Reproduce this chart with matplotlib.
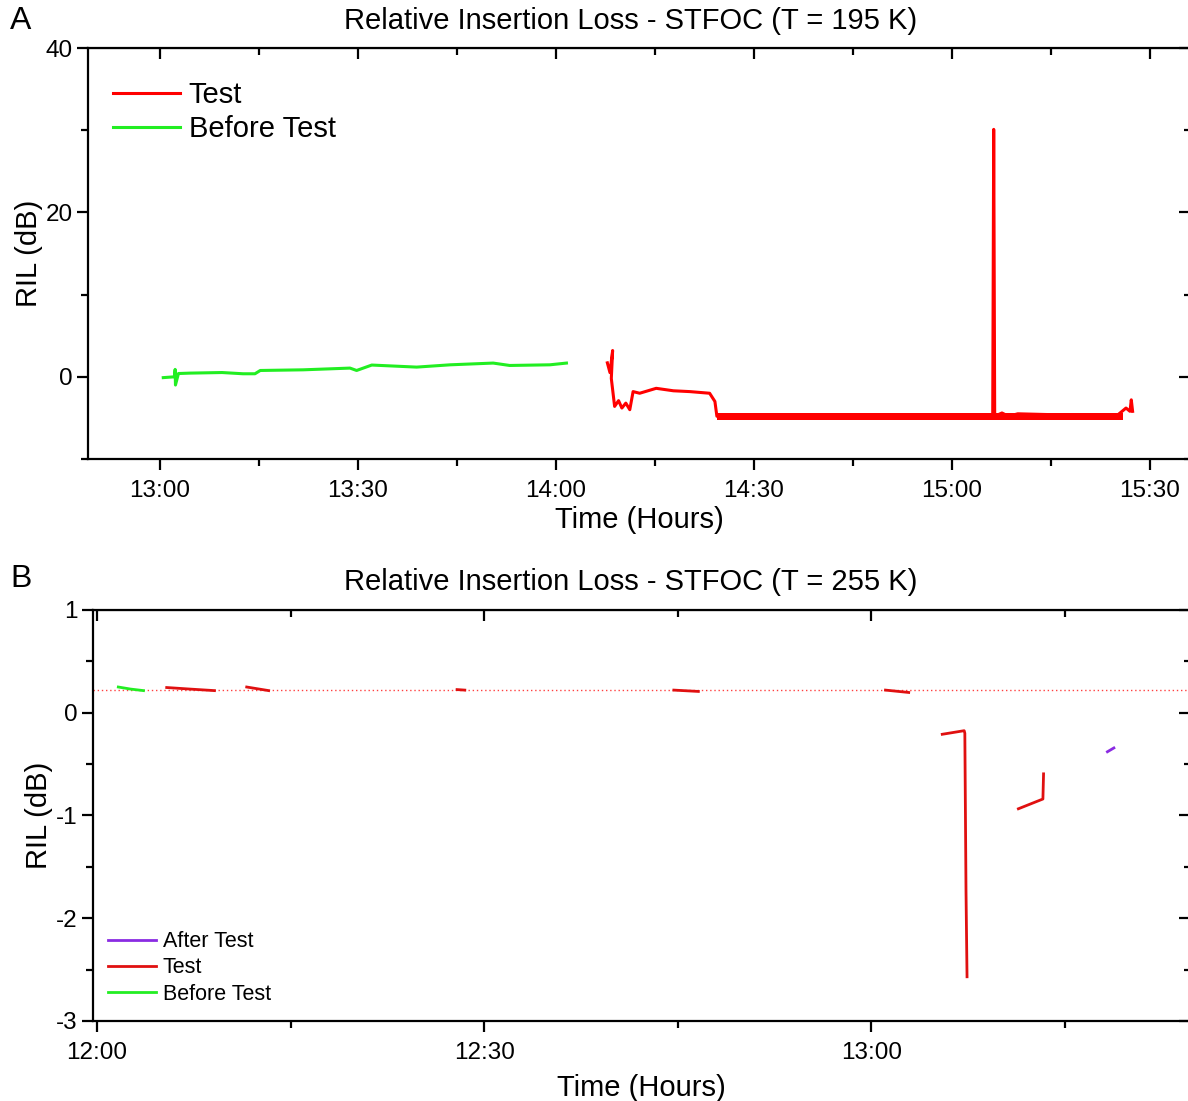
import numpy as np
import matplotlib
matplotlib.use('Agg')
import matplotlib.pyplot as plt
from matplotlib.ticker import MultipleLocator, FuncFormatter

plt.rcParams['font.family'] = ['Liberation Sans', 'DejaVu Sans']
plt.rcParams['axes.unicode_minus'] = False

### DATA ######################################################################
# Panel A: minutes after 13:00, RIL in dB (T = 195 K)
before_a_t = [0.5, 2.2, 2.3, 2.35, 2.8, 4.6, 9.4, 12.6, 14.4, 15.2, 21.7, 28.8, 29.8,
              32.1, 38.9, 44.0, 50.5, 53.0, 59.1, 61.6]
before_a_v = [-0.1, 0.0, 0.9, -1.0, 0.4, 0.45, 0.52, 0.37, 0.37, 0.77, 0.85, 1.06, 0.77,
              1.43, 1.18, 1.46, 1.67, 1.38, 1.46, 1.67]

test_a_t = [67.8, 68.2, 68.6, 68.4, 68.9, 69.5, 70.0, 70.6, 71.2, 71.7, 72.7, 75.2, 77.8,
            80.3, 83.3, 84.1, 84.4, 126.2, 126.35, 126.5, 127.6, 128.6, 130.0, 144.9,
            146.4, 147.0, 147.2, 147.4]
test_a_v = [1.7, 0.5, 3.2, -0.2, -3.6, -2.9, -3.8, -3.2, -4.0, -1.8, -2.0, -1.4, -1.7,
            -1.8, -2.0, -3.0, -4.8, -4.8, 30.1, -4.8, -4.4, -4.8, -4.5, -4.8,
            -3.8, -4.2, -2.8, -4.2]
# noise envelope of the flat part of the test trace
band_a_t = [84.4, 146.0]
band_a_lo = [-5.2, -5.2]
band_a_hi = [-4.4, -4.4]

# Panel B: minutes after 12:00, RIL in dB (T = 255 K)
before_b_t = [1.65, 2.6, 3.6]
before_b_v = [0.25, 0.23, 0.215]

test_b_t = [5.4, 7.2, 9.1, np.nan,
            11.6, 13.3, np.nan,
            27.9, 28.5, np.nan,
            44.7, 46.6, np.nan,
            61.1, 62.9, np.nan,
            65.5, 67.2, 67.25, 67.34, 67.42, np.nan,
            71.4, 73.3, 73.35]
test_b_v = [0.245, 0.23, 0.215, np.nan,
            0.25, 0.215, np.nan,
            0.225, 0.22, np.nan,
            0.22, 0.207, np.nan,
            0.22, 0.197, np.nan,
            -0.21, -0.175, -0.2, -1.73, -2.57, np.nan,
            -0.935, -0.84, -0.595]

after_b_t = [78.3, 78.8]
after_b_v = [-0.38, -0.343]

ref_b = 0.22   # dotted reference level

### SETTINGS ##################################################################
c_red = '#ff0000'
c_red2 = '#e01010'
c_green = '#22ee22'
c_purple = '#8a2be2'
fs_tick = 17.5
fs_lab = 21


def hhmm(start_h):
    def f(x, pos):
        m = int(round(x)) + start_h * 60
        return '%d:%02d' % (m // 60, m % 60)
    return FuncFormatter(f)


def style_axes(ax, xmaj, xmin, ymaj, ymin, start_h):
    for s in ax.spines.values():
        s.set_linewidth(1.6)
    ax.xaxis.set_major_locator(MultipleLocator(xmaj))
    ax.xaxis.set_minor_locator(MultipleLocator(xmin))
    ax.yaxis.set_major_locator(MultipleLocator(ymaj))
    ax.yaxis.set_minor_locator(MultipleLocator(ymin))
    ax.xaxis.set_major_formatter(hhmm(start_h))
    ax.tick_params(which='both', direction='out', width=1.6, labelsize=fs_tick, pad=3)
    ax.tick_params(axis='x', which='both', pad=7)
    ax.tick_params(which='major', length=8)
    ax.tick_params(which='minor', length=5)
    # mirrored ticks pointing inwards
    top = ax.secondary_xaxis('top')
    top.xaxis.set_major_locator(MultipleLocator(xmaj))
    top.xaxis.set_minor_locator(MultipleLocator(xmin))
    top.tick_params(which='both', direction='in', width=1.6, labeltop=False)
    top.tick_params(which='major', length=8)
    top.tick_params(which='minor', length=5)
    right = ax.secondary_yaxis('right')
    right.yaxis.set_major_locator(MultipleLocator(ymaj))
    right.yaxis.set_minor_locator(MultipleLocator(ymin))
    right.tick_params(which='both', direction='in', width=1.6, labelright=False)
    right.tick_params(which='major', length=8)
    right.tick_params(which='minor', length=4)


### PLOTS #####################################################################
fig = plt.figure(figsize=(11.88, 11.01), dpi=100)

# Panel A
ax1 = fig.add_axes([0.0741, 0.5831, 0.9276, 0.3733])
ax1.plot(test_a_t, test_a_v, color=c_red, lw=2.2, label='Test')
ax1.fill_between(band_a_t, band_a_lo, band_a_hi, color=c_red, lw=0)
ax1.plot(before_a_t, before_a_v, color=c_green, lw=2.2, label='Before Test')
ax1.set_xlim(-10.9, 156.1)
ax1.set_ylim(-10, 40)
style_axes(ax1, 30, 15, 20, 10, 13)
ax1.set_xlabel('Time (Hours)', fontsize=fs_lab, labelpad=3)
ax1.set_ylabel('RIL (dB)', fontsize=fs_lab, labelpad=2)
ax1.legend(loc='upper left', bbox_to_anchor=(-0.012, 1.011), frameon=False, fontsize=21,
           handlelength=2.3, handletextpad=0.3, labelspacing=0.2, borderaxespad=0.9)
fig.text(631 / 1188, 1 - 21 / 1101, 'Relative Insertion Loss - STFOC (T = 195 K)',
         ha='center', va='center', fontsize=fs_lab)
fig.text(10 / 1188, 1 - 21 / 1101, 'A', ha='left', va='center', fontsize=23)

# Panel B
ax2 = fig.add_axes([0.0783, 0.0727, 0.9234, 0.3733])
ax2.axhline(ref_b, color=c_red, lw=1.0, ls=(0, (1, 2.0)), alpha=0.75)
ax2.plot(after_b_t, after_b_v, color=c_purple, lw=2.0, label='After Test')
ax2.plot(test_b_t, test_b_v, color=c_red2, lw=2.0, label='Test')
ax2.plot(before_b_t, before_b_v, color=c_green, lw=2.0, label='Before Test')
ax2.set_xlim(-0.31, 84.7)
ax2.set_ylim(-3, 1)
style_axes(ax2, 30, 15, 1, 0.5, 12)
ax2.set_xlabel('Time (Hours)', fontsize=fs_lab, labelpad=7)
ax2.set_ylabel('RIL (dB)', fontsize=fs_lab, labelpad=2)
ax2.legend(loc='lower left', frameon=False, fontsize=15.5,
           handlelength=2.25, handletextpad=0.3, labelspacing=0.25,
           bbox_to_anchor=(-0.004, -0.008))
fig.text(631 / 1188, 1 - 582 / 1101, 'Relative Insertion Loss - STFOC (T = 255 K)',
         ha='center', va='center', fontsize=fs_lab)
fig.text(10 / 1188, 1 - 579 / 1101, 'B', ha='left', va='center', fontsize=23)

plt.savefig('out.png', dpi=100)
